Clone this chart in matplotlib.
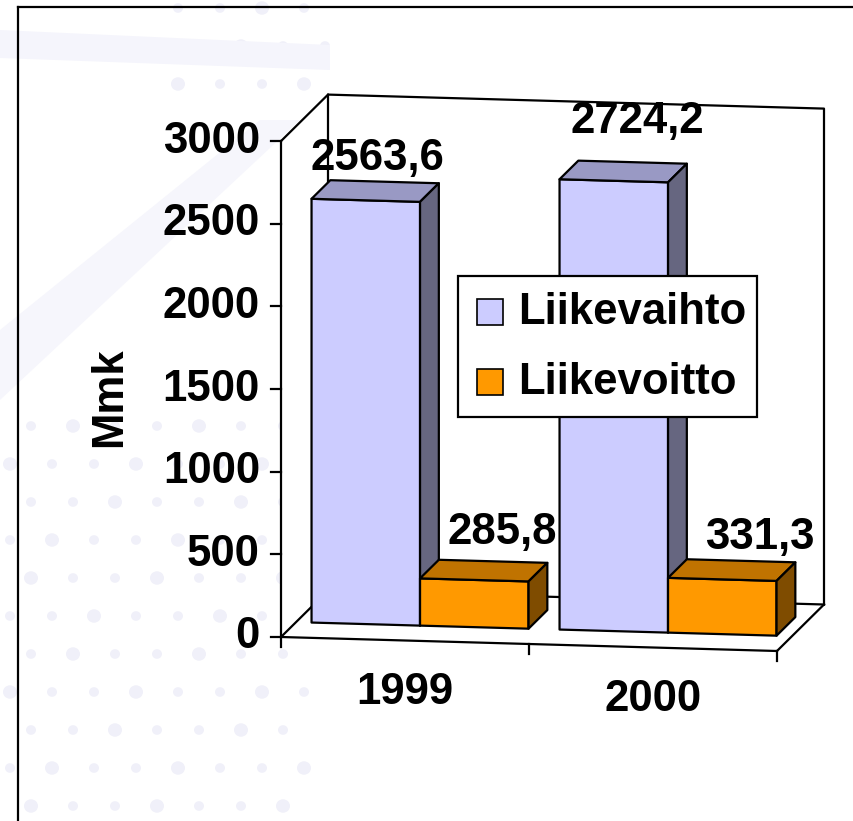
import matplotlib.pyplot as plt
from matplotlib.patches import Polygon, Rectangle, Circle
from matplotlib.lines import Line2D

# Data
years = ['1999', '2000']
series_names = ['Liikevaihto', 'Liikevoitto']
liikevaihto = [2563.6, 2724.2]
liikevoitto = [285.8, 331.3]
label_texts = [['2563,6', '2724,2'], ['285,8', '331,3']]
y_ticks = [0, 500, 1000, 1500, 2000, 2500, 3000]
y_label = 'Mmk'

# Colours (front, top, side) for each series
face_colors = [('#ccccff', '#9999c4', '#666680'),
               ('#ff9900', '#c07300', '#7f4c00')]

# Pseudo-3D geometry (pixel calibration of the oblique view)
W, H = 854, 821
PX0, PY0 = 281, 637          # front-left floor corner in pixels
CAT_PX = 248                  # pixels per category
VAL_PX = 0.1653               # pixels per value unit
SKEW = 7 / VAL_PX             # baseline drop per category (value units)
DEPTH_X = 47 / CAT_PX         # depth offset in category units
DEPTH_Y = 46.5 / VAL_PX       # depth offset in value units
Z0, Z1 = 0.32, 0.72           # depth extent of bars
BAR_W = 0.4375                # bar width (category units)
GAP = 0.0625
YMAX = 3000

FONT = 'Liberation Sans'
FS = 31.5

fig = plt.figure(figsize=(W / 100, H / 100), dpi=100)
ax = fig.add_axes([0, 0, 1, 1])
ax.axis('off')
ax.set_xlim(-PX0 / CAT_PX, (W - PX0) / CAT_PX)
ax.set_ylim((PY0 - H) / VAL_PX, PY0 / VAL_PX)


def proj(c, v, z):
    return (c + z * DEPTH_X, v - c * SKEW + z * DEPTH_Y)


def off(dx_px, dy_px):
    return dx_px / CAT_PX, -dy_px / VAL_PX


# faint slide background decoration
for i in range(9):
    for j in range(22):
        px = 10 + i * 42 + (21 if j % 2 else 0)
        py = 8 + j * 38
        inside = (py > 390 and px < 320) or (py < 90 and 150 < px < 330)
        if inside:
            r = 5 if (i + j) % 3 else 7
            fig.add_artist(Circle((px / W, 1 - py / H), r / W, transform=fig.transFigure,
                                  facecolor='#f0f0f9', edgecolor='none', zorder=0))
fig.add_artist(Polygon([(0, 1 - 30 / H), (330 / W, 1 - 45 / H), (330 / W, 1 - 70 / H), (0, 1 - 58 / H)],
                       closed=True, transform=fig.transFigure, facecolor='#f5f5fc', edgecolor='none', zorder=0))
fig.add_artist(Polygon([(0, 1 - 330 / H), (260 / W, 1 - 120 / H), (300 / W, 1 - 120 / H), (0, 1 - 400 / H)],
                       closed=True, transform=fig.transFigure, facecolor='#f6f6fc', edgecolor='none', zorder=0))

# slide frame
fig.add_artist(Line2D([18 / W, 18 / W], [0, 1 - 7 / H], color='black', lw=1.6, transform=fig.transFigure))
fig.add_artist(Line2D([18 / W, 1], [1 - 7 / H, 1 - 7 / H], color='black', lw=1.6, transform=fig.transFigure))

n = len(years)
lw = 1.6

# walls and floor (white background)
ax.add_patch(Polygon([proj(0, 0, 0), proj(0, YMAX, 0), proj(0, YMAX, 1), proj(n, YMAX, 1),
                      proj(n, 0, 1), proj(n, 0, 0)], closed=True, facecolor='white',
                     edgecolor='none', zorder=1))
wall_lines = [
    [proj(0, 0, 1), proj(0, YMAX, 1), proj(n, YMAX, 1), proj(n, 0, 1)],
    [proj(0, YMAX, 0), proj(0, YMAX, 1)],
    [proj(0, 0, 1), proj(n, 0, 1)],
    [proj(0, 0, 0), proj(0, 0, 1)],
    [proj(n, 0, 0), proj(n, 0, 1)],
]
for seg in wall_lines:
    xs, ys = zip(*seg)
    ax.plot(xs, ys, color='black', lw=lw, zorder=2)

# value axis
x0, _ = proj(0, 0, 0)
dx_tick, _ = off(-10, 0)
_, dy_down = off(0, 10)
ax.plot([x0, x0], [YMAX, dy_down], color='black', lw=lw, zorder=2)
for t in y_ticks:
    ax.plot([x0 + dx_tick, x0], [t, t], color='black', lw=lw, zorder=2)
    ax.text(x0 + off(-21, 0)[0], t, str(t), ha='right', va='center', fontsize=FS,
            fontweight='bold', family=FONT, zorder=3)

# category axis
xa, ya = proj(0, 0, 0)
xb, yb = proj(n, 0, 0)
ax.plot([xa, xb], [ya, yb], color='black', lw=lw, zorder=2)
for k in range(1, n + 1):
    tx, ty = proj(k, 0, 0)
    ax.plot([tx, tx], [ty, ty + dy_down], color='black', lw=lw, zorder=2)
for k, yr in enumerate(years):
    tx, ty = proj(k + 0.5, 0, 0)
    ax.text(tx, ty + off(0, 52)[1], yr, ha='center', va='center', fontsize=FS,
            fontweight='bold', family=FONT, zorder=3)

ax.text(off(110 - PX0, 0)[0], off(0, 397 - PY0)[1], y_label, rotation=90, ha='center',
        va='center', fontsize=FS, fontweight='bold', family=FONT)


def draw_bar(c0, c1, v, cols, zo):
    front = [proj(c0, 0, Z0), proj(c1, 0, Z0), proj(c1, v, Z0), proj(c0, v, Z0)]
    top = [proj(c0, v, Z0), proj(c1, v, Z0), proj(c1, v, Z1), proj(c0, v, Z1)]
    side = [proj(c1, 0, Z0), proj(c1, 0, Z1), proj(c1, v, Z1), proj(c1, v, Z0)]
    for poly, col in ((front, cols[0]), (top, cols[1]), (side, cols[2])):
        ax.add_patch(Polygon(poly, closed=True, facecolor=col, edgecolor='black',
                             lw=lw, joinstyle='round', zorder=zo))


# per-label pixel nudges (dx, dy) from the top-face centre
label_nudge = [[(2, -33), (14, -50)], [(19, -38), (28, -33)]]
series = [liikevaihto, liikevoitto]
zo = 4
for k in range(n):
    for s, vals in enumerate(series):
        c0 = k + GAP + s * BAR_W
        c1 = c0 + BAR_W
        draw_bar(c0, c1, vals[k], face_colors[s], zo)
        zo += 1
        cx, cy = proj((c0 + c1) / 2, vals[k], (Z0 + Z1) / 2)
        ndx, ndy = off(*label_nudge[s][k])
        ax.text(cx + ndx, cy + ndy, label_texts[s][k], ha='center', va='center',
                fontsize=FS, fontweight='bold', family=FONT, zorder=20)

# legend box
def fx(p):
    return p / W


def fy(p):
    return 1 - p / H


fig.add_artist(Rectangle((fx(458), fy(417)), fx(757) - fx(458), fy(276) - fy(417),
                         transform=fig.transFigure, facecolor='white', edgecolor='black',
                         lw=lw, zorder=30))
legend_rows = [312, 382]
for s, name in enumerate(series_names):
    yc = legend_rows[s]
    fig.add_artist(Rectangle((fx(477), fy(yc + 13)), fx(503) - fx(477), fy(yc - 13) - fy(yc + 13),
                             transform=fig.transFigure, facecolor=face_colors[s][0],
                             edgecolor='black', lw=1.2, zorder=31))
    fig.text(fx(518), fy(yc), name, ha='left', va='center', fontsize=FS, fontweight='bold',
             family=FONT, zorder=32)

plt.savefig('out.png', dpi=100)
